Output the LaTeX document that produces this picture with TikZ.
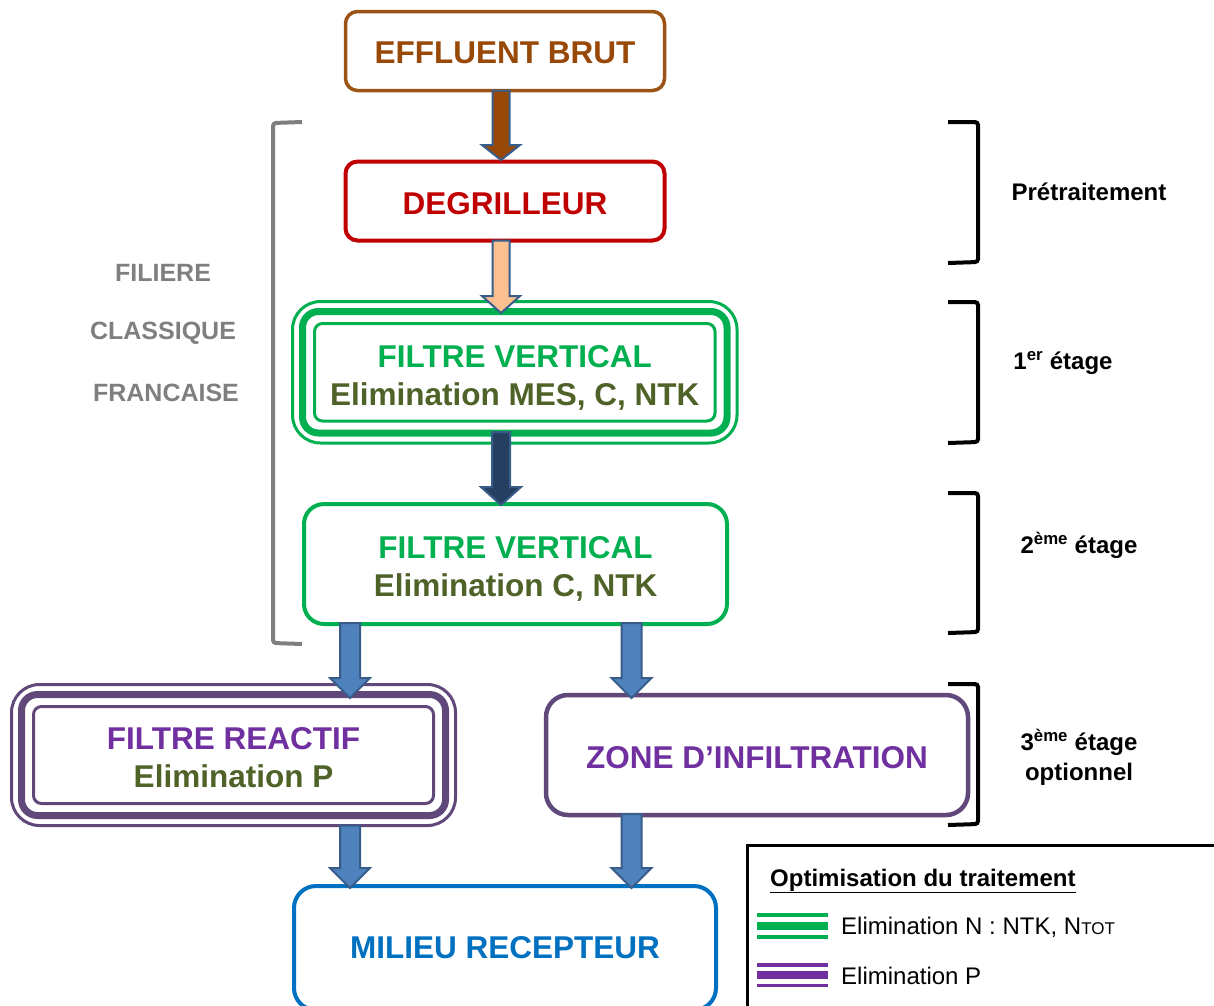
\documentclass[tikz,border=0pt]{standalone}
\usepackage{fontspec}
\setmainfont{Liberation Sans}
\usetikzlibrary{calc}
\definecolor{cbrown}{RGB}{152,72,7}
\definecolor{cbrownb}{RGB}{156,84,22}
\definecolor{cred}{RGB}{192,0,0}
\definecolor{cgreen}{RGB}{0,176,80}
\definecolor{colive}{RGB}{79,98,40}
\definecolor{cpurple}{RGB}{112,48,160}
\definecolor{cpurpleb}{RGB}{96,73,122}
\definecolor{cblue}{RGB}{0,112,192}
\definecolor{cgray}{RGB}{127,127,127}
\definecolor{arrline}{RGB}{56,93,138}
\definecolor{afill}{RGB}{79,129,189}
\definecolor{apeach}{RGB}{250,192,144}
\definecolor{anavy}{RGB}{36,63,96}
\newcommand\boxfont{\fontsize{31.5}{38}\selectfont\bfseries}
\newcommand\sidefont{\fontsize{24}{30}\selectfont\bfseries}
% fill, start, tip, shaft half-width, head half-width, head length
\newcommand\blockarr[6]{%
  \draw[arrline, line width=2pt, line join=miter, fill=#1] let \p1=(#2), \p2=(#3) in
   (\x1-#4pt,\y1) -- (\x1+#4pt,\y1) -- (\x1+#4pt,\y2+#6pt) -- (\x1+#5pt,\y2+#6pt)
   -- (\x1,\y2) -- (\x1-#5pt,\y2+#6pt) -- (\x1-#4pt,\y2+#6pt) -- cycle;}
\tikzset{
  box/.style={rectangle, rounded corners=#1, outer sep=0pt, inner sep=0pt,
    fill=white, align=center, font=\boxfont},
  sidelabel/.style={font=\sidefont, align=center, inner sep=0pt},
  graylabel/.style={font=\fontsize{25}{30}\selectfont\bfseries, text=cgray, inner sep=0pt},
  bracket/.style={line width=4pt, rounded corners=3pt},
  legtext/.style={font=\fontsize{24}{30}\selectfont, anchor=west, inner sep=0pt}
}
\begin{document}
\begin{tikzpicture}[x=1pt, y=-1pt]
\path[use as bounding box] (0,0) rectangle (1214,1005);
\clip (0,0) rectangle (1214,1005);

% boxes
\node[box=12pt, draw=cbrownb, line width=3.5pt, minimum width=319pt, minimum height=79pt,
  text=cbrown] (eff) at (505,51) {\rule{0pt}{24.5pt}EFFLUENT BRUT};
\node[box=12pt, draw=cred, line width=4pt, minimum width=319pt, minimum height=79pt,
  text=cred] (deg) at (505,201) {\rule{0pt}{26.5pt}DEGRILLEUR};

\node[box=8pt, draw=cgreen, line width=3pt, minimum width=400.5pt, minimum height=97.5pt]
  (fv1) at (514.75,372.25) {\rule{0pt}{33pt}\textcolor{cgreen}{FILTRE VERTICAL}\\\textcolor{colive}{Elimination MES, C, NTK}};
\draw[cgreen, line width=7pt, rounded corners=16pt] ($(fv1.south west)+(-12,12)$) rectangle ($(fv1.north east)+(12,-12)$);
\draw[cgreen, line width=3pt, rounded corners=28pt] ($(fv1.south west)+(-22,22)$) rectangle ($(fv1.north east)+(22,-22)$);

\node[box=20pt, draw=cgreen, line width=4pt, minimum width=423pt, minimum height=120pt]
  (fv2) at (515.5,564) {\rule{0pt}{31pt}\textcolor{cgreen}{FILTRE VERTICAL}\\\textcolor{colive}{Elimination C, NTK}};

\node[box=8pt, draw=cpurpleb, line width=3pt, minimum width=400pt, minimum height=97pt]
  (react) at (233.5,755) {\rule{0pt}{27pt}\textcolor{cpurple}{FILTRE REACTIF}\\\textcolor{colive}{Elimination P}};
\draw[cpurpleb, line width=7pt, rounded corners=16pt] ($(react.south west)+(-12,12)$) rectangle ($(react.north east)+(12,-12)$);
\draw[cpurpleb, line width=3pt, rounded corners=28pt] ($(react.south west)+(-22,22)$) rectangle ($(react.north east)+(22,-22)$);

\node[box=22pt, draw=cpurpleb, line width=4.5pt, minimum width=422pt, minimum height=120pt,
  text=cpurple] (zone) at (757,755) {\rule{0pt}{26.5pt}ZONE D’INFILTRATION};

\node[box=22pt, draw=cblue, line width=4pt, minimum width=422pt, minimum height=124pt,
  text=cblue] (milieu) at (505,948) {MILIEU RECEPTEUR};

% block arrows
\coordinate (xl) at (350,0);
\coordinate (xr) at (631.5,0);
\blockarr{cbrown}{$(eff.south)+(-4,0)$}{$(deg.north)+(-4,-1.5)$}{8.5}{19}{15}
\blockarr{apeach}{$(deg.south)+(-4,0)$}{$(fv1.north)+(-13.75,-10.5)$}{8.5}{19}{17}
\blockarr{anavy}{$(fv1.south)+(-13.75,11)$}{$(fv2.north)+(-14.5,1)$}{9}{20}{18}
\blockarr{afill}{$(fv2.south -| xl)+(0,-1)$}{$(react.north -| xl)+(0,-8.5)$}{10}{20}{20}
\blockarr{afill}{$(fv2.south -| xr)+(0,-1)$}{$(zone.north -| xr)+(0,3)$}{10}{20}{20}
\blockarr{afill}{$(react.south -| xl)+(0,22)$}{$(milieu.north -| xl)+(0,2)$}{10}{20}{20}
\blockarr{afill}{$(zone.south -| xr)+(0,-1)$}{$(milieu.north -| xr)+(0,2)$}{10}{20}{20}

% left gray bracket and label
\draw[bracket, cgray] (302,122) -- (273,123) -- (273,643) -- (302,644);
\node[graylabel] (fil1) at (163,273) {FILIERE};
\node[graylabel] (fil2) at (163,333) {CLASSIQUE};
\node[graylabel] (fil3) at (166,393) {FRANCAISE};

% right black brackets and labels
\draw[bracket, black] (948,122) -- (978,122) -- (978,262) -- (948,263);
\draw[bracket, black] (948,302) -- (978,302) -- (978,442) -- (948,443);
\draw[bracket, black] (948,493) -- (978,493) -- (978,632) -- (948,633);
\draw[bracket, black] (948,684) -- (978,684) -- (978,824) -- (948,825);
\node[sidelabel] (pre) at (1089,192) {Prétraitement};
\node[sidelabel] (et1) at (1063,363) {1\textsuperscript{er} étage};
\node[sidelabel] (et2) at (1079,545) {2\textsuperscript{ème} étage};
\node[sidelabel] (et3) at (1079,757) {3\textsuperscript{ème} étage\\optionnel};

% legend
\node[draw=black, line width=3pt, minimum width=473pt, minimum height=180pt, inner sep=0pt,
  outer sep=0pt] (leg) at (983.5,935) {};
\node[font=\fontsize{24}{30}\selectfont\bfseries, anchor=west, inner sep=0pt] (legt) at (770,881)
  {\underline{Optimisation du traitement}};
\draw[cgreen, line width=3.5pt] (757,915) -- (828,915);
\draw[cgreen, line width=8pt] (757,926) -- (828,926);
\draw[cgreen, line width=3.5pt] (757,937) -- (828,937);
\draw[cpurple, line width=3.5pt] (757,965) -- (828,965);
\draw[cpurple, line width=8pt] (757,974.5) -- (828,974.5);
\draw[cpurple, line width=3.5pt] (757,985.5) -- (828,985.5);
\node[legtext] (legn) at (841,927) {Elimination N : NTK, N{\fontsize{17}{20}\selectfont TOT}};
\node[legtext] (legp) at (841,976) {Elimination P};
\end{tikzpicture}
\end{document}
